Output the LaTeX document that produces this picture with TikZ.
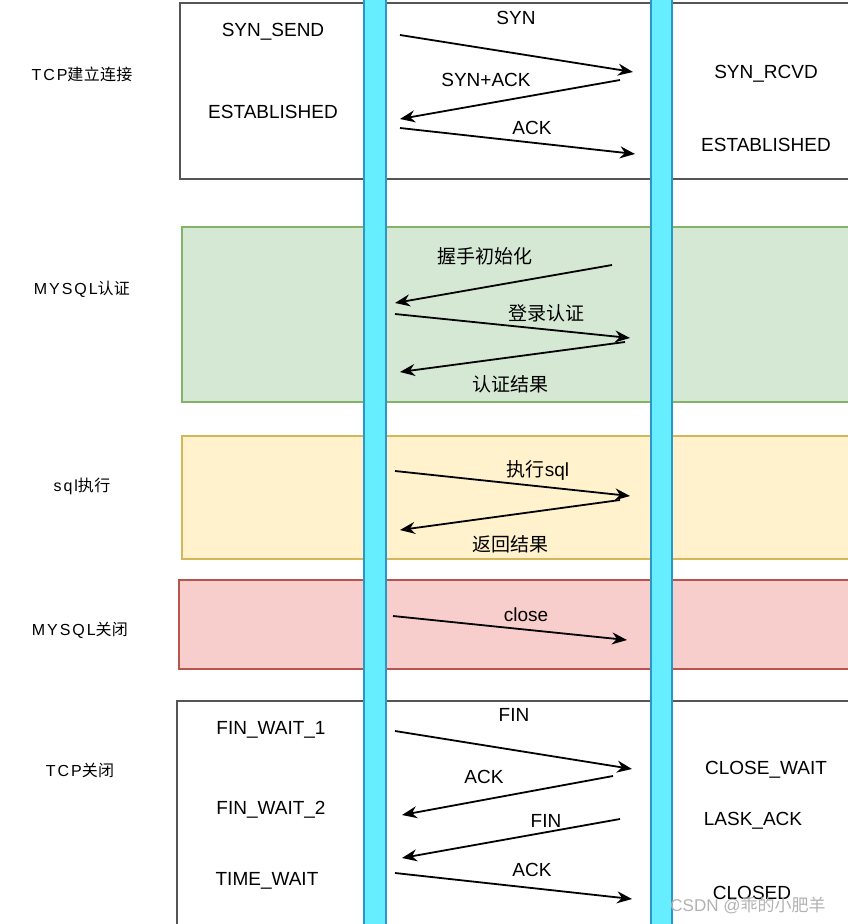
\documentclass[tikz,border=0pt]{standalone}
\usepackage{fontspec}
\setmainfont{Liberation Sans}
\newfontfamily\cjk{Noto Sans CJK SC}
\newfontfamily\tagfont{Liberation Sans}[LetterSpace=12.0]
\newfontfamily\tagcjk{Noto Sans CJK SC}[LetterSpace=2.0]
\usetikzlibrary{arrows.meta}
\definecolor{lanefill}{RGB}{102,238,255}
\definecolor{laneline}{RGB}{45,150,200}
\definecolor{authfill}{RGB}{213,232,212}
\definecolor{authline}{RGB}{130,179,102}
\definecolor{execfill}{RGB}{255,242,204}
\definecolor{execline}{RGB}{214,182,86}
\definecolor{shutfill}{RGB}{248,206,204}
\definecolor{shutline}{RGB}{184,84,80}
\definecolor{boxgray}{RGB}{85,85,85}
\newcommand{\zh}[1]{{\cjk #1}}
\newcommand{\tagname}[2]{{\tagfont #1}{\tagcjk #2}}

\begin{document}
\begin{tikzpicture}[
  x=1pt, y=-1pt,
  font=\fontsize{19}{22}\selectfont,
  phase/.style={rectangle, draw=boxgray, line width=1.5pt, anchor=north west,
    inner sep=0pt},
  lane/.style={rectangle, fill=lanefill, draw=laneline, line width=1.5pt,
    anchor=north west, inner sep=0pt, minimum height=940pt},
  tag/.style={font=\fontsize{16}{19}\selectfont},
  msg/.style={-{Stealth[length=15pt,width=12pt]}, line width=1.8pt}
]
\useasboundingbox (0,0) rectangle (848,924);
\clip (0,0) rectangle (848,924);

% phases
\node[phase, minimum width=700pt, minimum height=176pt] (tcpopen) at (179,2) {};
\node[phase, fill=authfill, draw=authline, minimum width=700pt,
  minimum height=175pt] (auth) at (181,226) {};
\node[phase, fill=execfill, draw=execline, minimum width=700pt,
  minimum height=123pt] (exec) at (181,435) {};
\node[phase, fill=shutfill, draw=shutline, minimum width=700pt,
  minimum height=89pt] (shut) at (178,579) {};
\node[phase, minimum width=700pt, minimum height=260pt] (tcpclose) at (176,700) {};

% the two lanes
\node[lane, minimum width=22pt] (client) at (363,-8) {};
\node[lane, minimum width=21pt] (server) at (650,-8) {};

% phase names
\node[tag] (ltcpopen) at (82,74) {\tagname{TCP}{建立连接}};
\node[tag] (lauth) at (82,289) {\tagname{MYSQL}{认证}};
\node[tag] (lexec) at (82,486) {\tagname{sql}{执行}};
\node[tag] (lshut) at (80,630) {\tagname{MYSQL}{关闭}};
\node[tag] (ltcpclose) at (80,770) {\tagname{TCP}{关闭}};

% states
\node (synsend) at (273,32) {SYN\_SEND};
\node (estc) at (273,112) {ESTABLISHED};
\node (synrcvd) at (766,74) {SYN\_RCVD};
\node (ests) at (766,145) {ESTABLISHED};
\node (fw1) at (271,730) {FIN\_WAIT\_1};
\node (fw2) at (271,810) {FIN\_WAIT\_2};
\node (tw) at (267,881) {TIME\_WAIT};
\node (cw) at (766,770) {CLOSE\_WAIT};
\node (lack) at (753,821) {LASK\_ACK};
\node (closed) at (752,893) {CLOSED};

% message ends
\coordinate (syn-a) at (400,35);   \coordinate (syn-b) at (633,72);
\coordinate (sack-a) at (620,80);  \coordinate (sack-b) at (400,119);
\coordinate (ack-a) at (400,128);  \coordinate (ack-b) at (635,154);
\coordinate (hs-a) at (612,265);   \coordinate (hs-b) at (395,303);
\coordinate (login-a) at (395,314); \coordinate (login-b) at (630,338);
\coordinate (res-a) at (625,342);  \coordinate (res-b) at (400,372);
\coordinate (sql-a) at (395,471);  \coordinate (sql-b) at (630,496);
\coordinate (ret-a) at (620,500);  \coordinate (ret-b) at (400,530);
\coordinate (cls-a) at (393,616);  \coordinate (cls-b) at (627,640);
\coordinate (fin1-a) at (395,731); \coordinate (fin1-b) at (632,769);
\coordinate (ack1-a) at (613,776); \coordinate (ack1-b) at (402,815);
\coordinate (fin2-a) at (620,819); \coordinate (fin2-b) at (402,858);
\coordinate (ack2-a) at (395,873); \coordinate (ack2-b) at (632,899);

\draw[msg] (syn-a) -- (syn-b);
\draw[msg] (sack-a) -- (sack-b);
\draw[msg] (ack-a) -- (ack-b);
\draw[msg] (hs-a) -- (hs-b);
\draw[msg] (login-a) -- (login-b);
\draw[msg] (res-a) -- (res-b);
\draw[msg] (sql-a) -- (sql-b);
\draw[msg] (ret-a) -- (ret-b);
\draw[msg] (cls-a) -- (cls-b);
\draw[msg] (fin1-a) -- (fin1-b);
\draw[msg] (ack1-a) -- (ack1-b);
\draw[msg] (fin2-a) -- (fin2-b);
\draw[msg] (ack2-a) -- (ack2-b);

% message labels
\node (lsyn) at (516,18) {SYN};
\node (lsack) at (486,80) {SYN+ACK};
\node (lack1) at (532,128) {ACK};
\node (lhs) at (485,256) {\zh{握手初始化}};
\node (llogin) at (546,313) {\zh{登录认证}};
\node (lres) at (510,384) {\zh{认证结果}};
\node (lsql) at (538,470) {\zh{执行}sql};
\node (lret) at (510,544) {\zh{返回结果}};
\node (lcls) at (526,615) {close};
\node (lfin1) at (514,715) {FIN};
\node (lack2) at (484,777) {ACK};
\node (lfin2) at (546,821) {FIN};
\node (lack3) at (532,870) {ACK};

% watermark
\node[text=gray!60, font=\fontsize{17}{20}\selectfont] (mark) at (748,905)
  {CSDN @\zh{乖的小肥羊}};
\end{tikzpicture}
\end{document}
